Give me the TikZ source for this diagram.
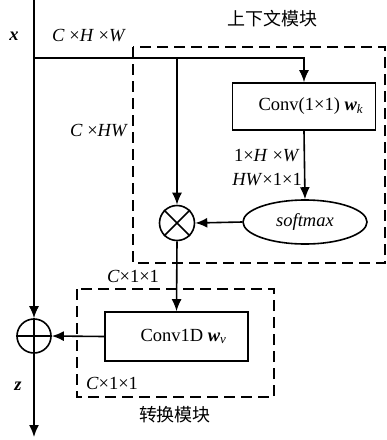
\documentclass[tikz,border=0pt]{standalone}
\usepackage{fontspec}
\setmainfont{Liberation Serif}
\newfontfamily\cjk{Noto Sans CJK SC}
\usetikzlibrary{arrows.meta,shapes.geometric}
\begin{document}
\begin{tikzpicture}[x=1pt,y=-1pt,
  every node/.style={font=\fontsize{18.5}{22}\selectfont, inner sep=0pt},
  line/.style={line width=1.6pt},
  arr/.style={line width=1.6pt,-{Latex[length=12pt,width=10pt]}},
  dashbox/.style={line width=2.6pt,dash pattern=on 11pt off 6pt},
  blk/.style={draw,line width=1.6pt,minimum width=143pt},
  opcirc/.style={draw,circle,line width=1.6pt,minimum size=35pt}]
\useasboundingbox (0,0) rectangle (387,440);
% dashed module frames
\draw[dashbox] (133,47) rectangle (385,263);
\draw[dashbox] (77,289) rectangle (274,397);
% nodes
\coordinate (top) at (34,0);
\coordinate (split) at (34,58);
\coordinate (br) at (177,58);
\coordinate (bot) at (34,437);
\node[blk,minimum height=47pt] (conv) at (304,106.5) {\hspace{14pt}Conv(1×1) \textbf{\textit{w}}\textsubscript{\textit{k}}};
\node[draw,ellipse,line width=1.6pt,minimum width=124pt,minimum height=44pt] (soft) at (305,222) {\textit{softmax}};
\node[opcirc] (mul) at (177,223) {};
\draw[line] (mul.north east) -- (mul.south west) (mul.north west) -- (mul.south east);
\node[blk,minimum height=49pt] (conv1d) at (176.5,336.5) {\hspace{14pt}Conv1D \textbf{\textit{w}}\textsubscript{\textit{v}}};
\node[opcirc,minimum size=34pt] (add) at (34,336) {};
\draw[line] (add.north) -- (add.south) (add.west) -- (add.east);
% connectors
\draw[arr] (top) -- (add.north);
\draw[arr] (add.south) -- (bot);
\draw[line] (split) -- (br);
\draw[arr] (br) -| (conv.north);
\draw[arr] (br) -- (mul.north);
\draw[arr] (conv.south) -- (soft.north);
\draw[arr] (soft.west) -- (mul.east);
\draw[arr] (mul.south) -- (conv1d.north);
\draw[arr] (conv1d.west) -- (add.east);
% labels
\node (lx) at (14,36) {\textbf{\textit{x}}};
\node (lz) at (18,386) {\textbf{\textit{z}}};
\node (l1) at (89,36) {\textit{C} ×\textit{H} ×\textit{W}};
\node (l2) at (99,131) {\textit{C} ×\textit{HW}};
\node[anchor=east] (l3) at (300,156) {1×\textit{H} ×\textit{W}};
\node[anchor=east] (l4) at (302,180) {\textit{HW}×1×1};
\node (l5) at (133,276) {\textit{C}×1×1};
\node (l6) at (112,383) {\textit{C}×1×1};
\node (t1) at (272,19) {\cjk\fontsize{18}{22}\selectfont 上下文模块};
\node (t2) at (175,415) {\cjk\fontsize{18}{22}\selectfont 转换模块};
\end{tikzpicture}
\end{document}
